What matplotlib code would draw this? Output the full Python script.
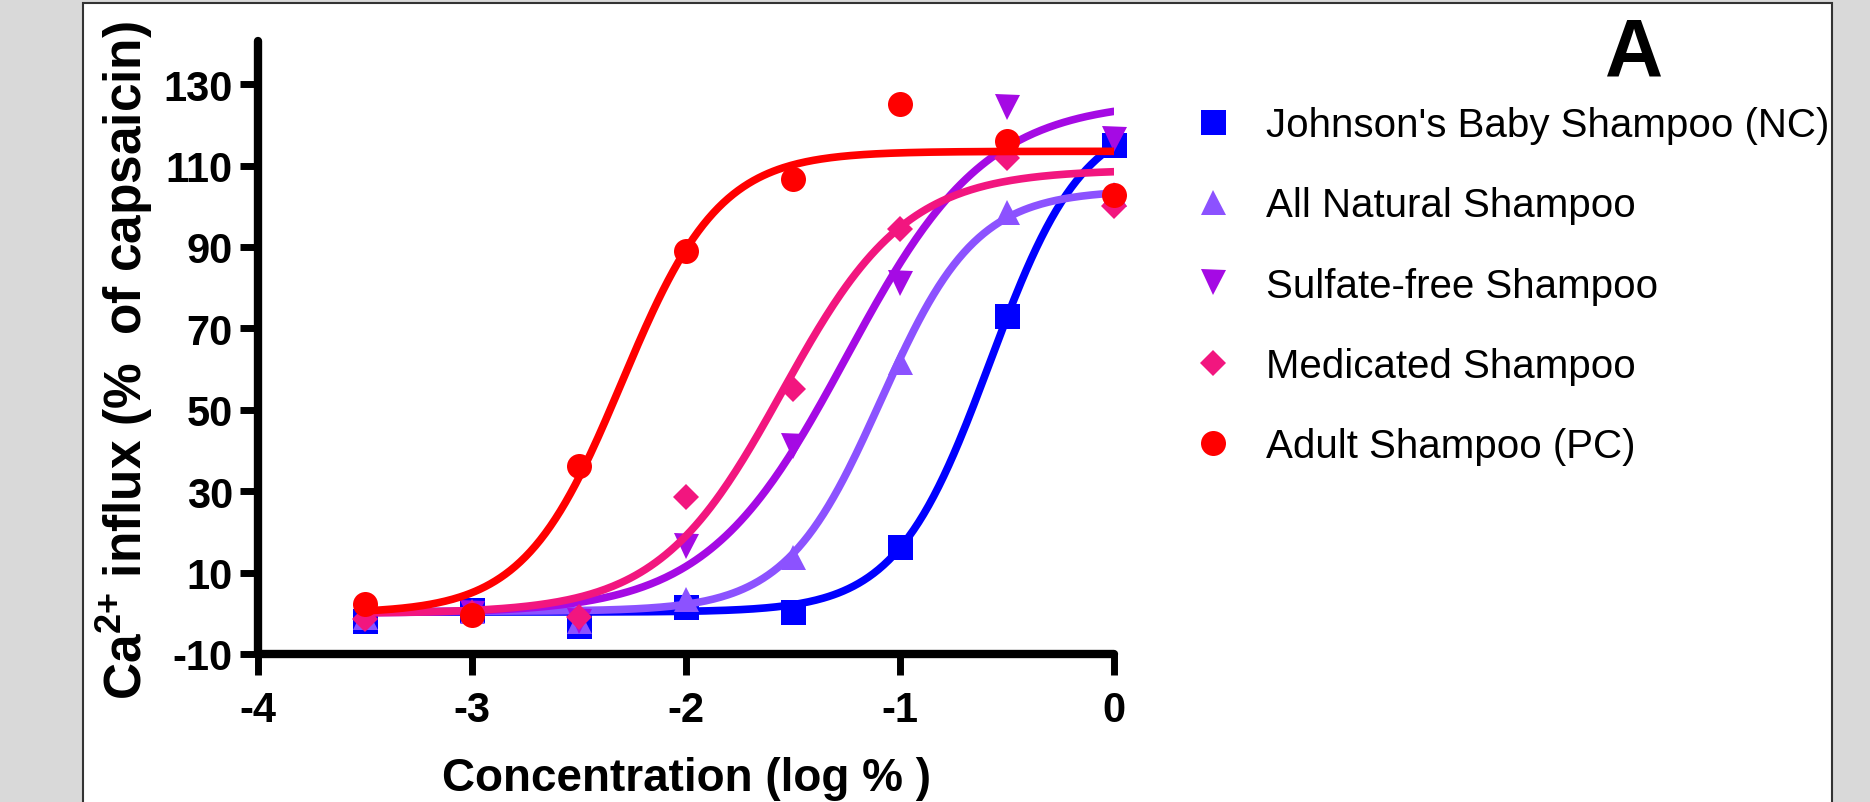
import numpy as np
import matplotlib
matplotlib.use('Agg')
import matplotlib.pyplot as plt
import matplotlib.patches as patches

plt.rcParams['font.family'] = ['Liberation Sans', 'DejaVu Sans']
plt.rcParams['mathtext.fontset'] = 'custom'
plt.rcParams['mathtext.rm'] = 'Liberation Sans'
plt.rcParams['mathtext.bf'] = 'Liberation Sans:bold'
plt.rcParams['axes.unicode_minus'] = False

# log concentration (%)
conc = [-3.5, -3.0, -2.5, -2.0, -1.5, -1.0, -0.5, 0.0]

labels = ["Johnson's Baby Shampoo (NC)", 'All Natural Shampoo',
          'Sulfate-free Shampoo', 'Medicated Shampoo', 'Adult Shampoo (PC)']

johnsons = [-2.0, 0.8, -3.0, 1.6, 0.3, 16.3, 73.0, 115.0]
all_natural = [-1.0, 0.5, -2.0, 3.5, 13.8, 61.7, 98.5, 103.0]
sulfate_free = [-1.0, 0.0, -2.0, 16.6, 41.0, 81.2, 124.3, 116.5]
medicated = [-1.5, 0.0, -1.0, 28.6, 55.1, 94.4, 111.8, 100.0]
adult = [2.4, -0.3, 36.3, 89.0, 106.7, 125.1, 116.1, 102.8]

# sigmoidal fit parameters
fit_bottom = [0.3, 0.5, 0.0, 0.0, 0.0]
fit_top = [123.0, 104.0, 126.0, 109.0, 113.5]
fit_logec50 = [-0.58, -1.09, -1.25, -1.55, -2.30]
fit_hill = [1.98, 1.95, 1.33, 1.50, 1.90]

colors = ['#0000ff', '#8c52ff', '#a50ae4', '#f2167f', '#ff0000']
markers = ['s', '^', 'v', 'D', 'o']
msizes = [18, 18, 18, 13.5, 18]

yticks = [-10, 10, 30, 50, 70, 90, 110, 130]
xticks = [-4, -3, -2, -1, 0]

fig = plt.figure(figsize=(18.7, 8.03), dpi=100)
fig.patch.set_facecolor('#d9d9d9')
panel = patches.Rectangle((83 / 1870, -0.02), (1832 - 83) / 1870, 1.02 - 4 / 803,
                          transform=fig.transFigure, facecolor='white',
                          edgecolor='#333333', linewidth=1.5, zorder=-5)
fig.patches.append(panel)

ax = fig.add_axes([258 / 1870, 148 / 803, (1114 - 258) / 1870, (655 - 42) / 803])
ax.set_facecolor('none')

series = [johnsons, all_natural, sulfate_free, medicated, adult]
xs = np.linspace(conc[0], conc[-1], 300)
handles = []
for i, ys in enumerate(series):
    curve = fit_bottom[i] + (fit_top[i] - fit_bottom[i]) / (1 + 10 ** ((fit_logec50[i] - xs) * fit_hill[i]))
    ax.plot(xs, curve, color=colors[i], lw=5.5, solid_capstyle='round', zorder=2 + i)
    h, = ax.plot(conc, ys, linestyle='none', marker=markers[i], ms=msizes[i],
                 color=colors[i], markeredgewidth=0, clip_on=False, zorder=2 + i)
    handles.append(h)

ax.set_xlim(-4, 0)
ax.set_ylim(-10, 140.6)
ax.set_xticks(xticks)
ax.set_yticks(yticks)
for s in ['top', 'right']:
    ax.spines[s].set_visible(False)
for s in ['left', 'bottom']:
    ax.spines[s].set_linewidth(6)
    ax.spines[s].set_capstyle('round')
ax.tick_params(axis='x', length=15, width=5, pad=11, labelsize=30)
ax.tick_params(axis='y', length=13, width=5, pad=5, labelsize=30)
for lab in ax.get_xticklabels() + ax.get_yticklabels():
    lab.set_fontweight('bold')

ax.set_xlabel('Concentration (log % )', fontsize=33, fontweight='bold', labelpad=19)
fig.text(125 / 1870, 1 - 360 / 803, r'Ca$^{\mathbf{2{+}}}$ influx (%  of capsaicin)',
         rotation=90, ha='center', va='center', fontsize=37, fontweight='bold')

fig.text(1634 / 1870, 1 - 75 / 803, 'A', ha='center', va='baseline',
         fontsize=58, fontweight='bold')

fig.legend(handles, labels, loc='upper left', bbox_to_anchor=(1193 / 1870, 1 - 107 / 803),
           bbox_transform=fig.transFigure, frameon=False, fontsize=29,
           handlelength=1.0, handletextpad=0.8, labelspacing=1.05,
           borderpad=0, borderaxespad=0, markerscale=1.0)

fig.savefig('out.png', dpi=100, facecolor=fig.get_facecolor())
